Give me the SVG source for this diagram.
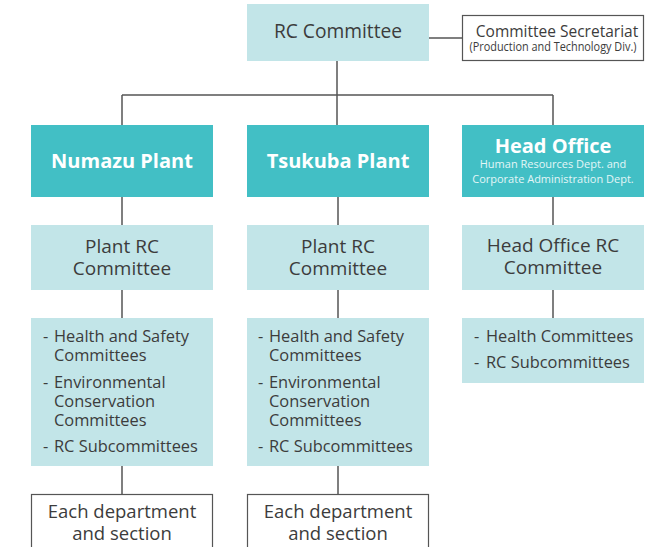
<svg xmlns="http://www.w3.org/2000/svg" width="659" height="547" viewBox="0 0 659 547">
  <style>
    .t { font-family: "Open Sans", "Liberation Sans", sans-serif; fill: #3c3c3c; text-anchor: middle; }
    .l { font-family: "Open Sans", "Liberation Sans", sans-serif; fill: #3c3c3c; font-size: 16.4px; }
    .head { fill: #42bfc5; }
    .sub { fill: #c2e5e8; }
    .plain { fill: #ffffff; stroke: #555555; stroke-width: 1.2; }
    .hd { font-family: "Open Sans", "Liberation Sans", sans-serif; fill: #ffffff; font-weight: bold; font-size: 20px; text-anchor: middle; }
    .hs { font-family: "Open Sans", "Liberation Sans", sans-serif; fill: #e4f6f7; font-size: 11px; text-anchor: middle; }
    .conn line { stroke: #555555; stroke-width: 1.5; }
  </style>

  <!-- connectors -->
  <g id="connectors" class="conn">
    <line x1="429" y1="38" x2="462" y2="38"/>
    <line x1="337" y1="61" x2="337" y2="125"/>
    <line x1="122" y1="95" x2="553" y2="95"/>
    <line x1="122" y1="95" x2="122" y2="125"/>
    <line x1="553" y1="95" x2="553" y2="125"/>
    <line x1="122" y1="197" x2="122" y2="225"/>
    <line x1="122" y1="290" x2="122" y2="318"/>
    <line x1="122" y1="466" x2="122" y2="494"/>
    <line x1="338" y1="197" x2="338" y2="225"/>
    <line x1="338" y1="290" x2="338" y2="318"/>
    <line x1="338" y1="466" x2="338" y2="494"/>
    <line x1="553" y1="197" x2="553" y2="225"/>
    <line x1="553" y1="290" x2="553" y2="318"/>
  </g>

  <!-- top committee -->
  <g id="rc-committee">
    <rect class="sub" x="247" y="4" width="182" height="57"/>
    <text class="t" x="338" y="38" font-size="19.2">RC Committee</text>
  </g>

  <g id="secretariat">
    <rect class="plain" x="462.5" y="15.5" width="181" height="45"/>
    <text class="t" y="37"><tspan x="557" font-size="15.5">Committee Secretariat</tspan><tspan x="553" dy="14" font-size="12" textLength="167" lengthAdjust="spacingAndGlyphs">(Production and Technology Div.)</tspan></text>
  </g>

  <!-- Numazu column -->
  <g id="numazu-plant">
    <rect class="head" x="31" y="125" width="182" height="72"/>
    <text class="hd" x="122" y="168">Numazu Plant</text>
  </g>
  <g id="numazu-rc">
    <rect class="sub" x="31" y="225" width="182" height="65"/>
    <text class="t" x="122" y="253" font-size="19"><tspan x="122">Plant RC</tspan><tspan x="122" dy="22">Committee</tspan></text>
  </g>
  <g id="numazu-list">
    <rect class="sub" x="31" y="318" width="182" height="148"/>
    <text class="l" y="342"><tspan x="43">-</tspan><tspan x="54">Health and Safety</tspan><tspan x="54" dy="19">Committees</tspan><tspan x="43" dy="27">-</tspan><tspan x="54">Environmental</tspan><tspan x="54" dy="19">Conservation</tspan><tspan x="54" dy="19">Committees</tspan><tspan x="43" dy="26">-</tspan><tspan x="54">RC Subcommittees</tspan></text>
  </g>
  <g id="numazu-depts">
    <rect class="plain" x="31.5" y="494.5" width="181" height="60"/>
    <text class="t" x="122" y="518" font-size="18.5"><tspan x="122">Each department</tspan><tspan x="122" dy="22">and section</tspan></text>
  </g>

  <!-- Tsukuba column -->
  <g id="tsukuba-plant">
    <rect class="head" x="247" y="125" width="182" height="72"/>
    <text class="hd" x="338" y="168">Tsukuba Plant</text>
  </g>
  <g id="tsukuba-rc">
    <rect class="sub" x="247" y="225" width="182" height="65"/>
    <text class="t" x="338" y="253" font-size="19"><tspan x="338">Plant RC</tspan><tspan x="338" dy="22">Committee</tspan></text>
  </g>
  <g id="tsukuba-list">
    <rect class="sub" x="247" y="318" width="182" height="148"/>
    <text class="l" y="342"><tspan x="258">-</tspan><tspan x="269">Health and Safety</tspan><tspan x="269" dy="19">Committees</tspan><tspan x="258" dy="27">-</tspan><tspan x="269">Environmental</tspan><tspan x="269" dy="19">Conservation</tspan><tspan x="269" dy="19">Committees</tspan><tspan x="258" dy="26">-</tspan><tspan x="269">RC Subcommittees</tspan></text>
  </g>
  <g id="tsukuba-depts">
    <rect class="plain" x="247.5" y="494.5" width="181" height="60"/>
    <text class="t" x="338" y="518" font-size="18.5"><tspan x="338">Each department</tspan><tspan x="338" dy="22">and section</tspan></text>
  </g>

  <!-- Head Office column -->
  <g id="head-office">
    <rect class="head" x="462" y="125" width="182" height="72"/>
    <text class="hd" x="553" y="153">Head Office</text>
    <text class="hs" x="553" y="168"><tspan x="553">Human Resources Dept. and</tspan><tspan x="553" dy="15">Corporate Administration Dept.</tspan></text>
  </g>
  <g id="head-office-rc">
    <rect class="sub" x="462" y="225" width="182" height="65"/>
    <text class="t" x="553" y="252" font-size="19"><tspan x="553">Head Office RC</tspan><tspan x="553" dy="22">Committee</tspan></text>
  </g>
  <g id="head-office-list">
    <rect class="sub" x="462" y="318" width="182" height="65"/>
    <text class="l" y="342"><tspan x="474">-</tspan><tspan x="486">Health Committees</tspan><tspan x="474" dy="26">-</tspan><tspan x="486">RC Subcommittees</tspan></text>
  </g>
</svg>
